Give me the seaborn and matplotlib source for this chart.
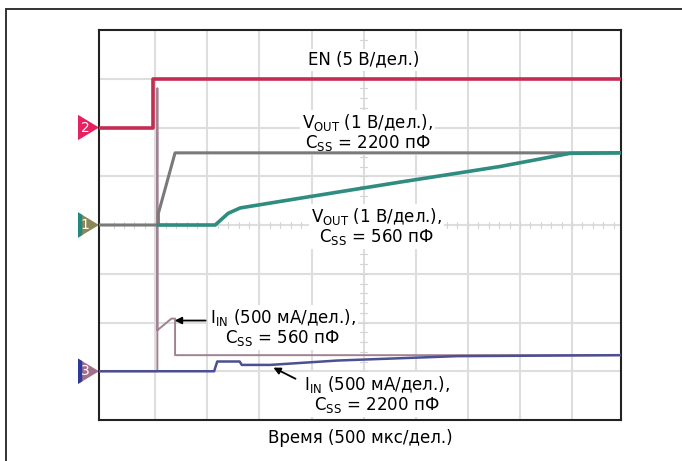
import numpy as np
import pandas as pd
import matplotlib
matplotlib.use('Agg')
import matplotlib.pyplot as plt
import matplotlib.transforms as mtrans
from matplotlib.patches import Polygon, Rectangle
import seaborn as sns

#traces, x in divisions (500 us/div), y in divisions
en_t=[-0.1,0.96,0.96,9.95]
en_v=[6.0,6.0,7.0,7.0]

vout2200_t=[-0.1,1.06,1.06,1.38,9.95]
vout2200_v=[4.0,4.0,4.24,5.48,5.48]

vout560_t=[1.06,2.15,2.40,2.63,3.78,5.70,7.62,8.96,9.95]
vout560_v=[4.0,4.0,4.24,4.35,4.55,4.88,5.20,5.47,5.48]

iin560_t=[-0.1,1.04,1.04,1.04,1.31,1.38,1.38,9.95]
iin560_v=[1.0,1.0,6.8,1.84,2.08,2.08,1.33,1.33]

iin2200_t=[-0.1,2.13,2.19,2.62,2.66,3.20,4.50,6.80,9.95]
iin2200_v=[1.0,1.0,1.2,1.2,1.13,1.13,1.22,1.31,1.33]

#channel markers: level and label
ch_levels=[6.0,4.0,1.0]
ch_labels=['2','1','3']
ch_colors=['#e8205f','#8b8758','#a0708a']
ch_stripes=[None,'#1f8a80','#2b3a9c']

sns.set_style('white')
plt.rcParams['font.family']=['Liberation Sans Narrow','DejaVu Sans']
plt.rcParams['text.color']='black'

fig=plt.figure(figsize=(6.82,4.61),dpi=100)
ax=fig.add_axes([99/682,41/461,522/682,390/461])

ax.set_xlim(-0.08,9.94)
ax.set_ylim(0,8)

#grid
for gx in range(1,10):
    ax.axvline(gx,color='#dedede',lw=1.5,zorder=0)
for gy in range(1,8):
    ax.axhline(gy,color='#dedede',lw=1.5,zorder=0)
#small ticks on the centre lines
for tx in np.arange(0.2,10,0.2):
    ax.plot([tx,tx],[3.93,4.07],color='#d4d4d4',lw=0.8,zorder=0)
for ty in np.arange(0.2,8,0.2):
    ax.plot([4.93,5.07],[ty,ty],color='#d4d4d4',lw=0.8,zorder=0)

def trace(t,v,color,lw):
    df=pd.DataFrame({'t':t,'v':v})
    sns.lineplot(data=df,x='t',y='v',ax=ax,color=color,lw=lw,
                 sort=False,estimator=None,zorder=3)

trace(iin560_t,iin560_v,'#a08290',1.4)
trace(iin2200_t,iin2200_v,'#4c4f92',1.8)
trace(vout2200_t,vout2200_v,'#7a7a7a',2.2)
trace(vout560_t,vout560_v,'#2f8c80',2.6)
trace(en_t,en_v,'#c42d52',2.6)

ax.set_xlabel('')
ax.set_ylabel('')
ax.set_xticks([])
ax.set_yticks([])
for s in ax.spines.values():
    s.set_visible(True)
    s.set_color('#222222')
    s.set_linewidth(1.5)

#channel markers left of the screen
blend=mtrans.blended_transform_factory(ax.transAxes,ax.transData)
w=0.0402
h=0.26
for lvl,lab,c,st in zip(ch_levels,ch_labels,ch_colors,ch_stripes):
    ax.add_patch(Polygon([(-w,lvl-h),(-w,lvl+h),(0,lvl)],closed=True,
                         fc=c,ec='none',transform=blend,clip_on=False))
    if st is not None:
        f=0.2
        ax.add_patch(Polygon([(-w,lvl-h),(-w,lvl+h),(-w*(1-f),lvl+h*(1-f)),
                              (-w*(1-f),lvl-h*(1-f))],closed=True,
                             fc=st,ec='none',transform=blend,clip_on=False))
    ax.text(-0.027,lvl,lab,transform=blend,color='white',fontsize=10,
            ha='center',va='center')

box=dict(fc='white',ec='none',pad=1.5)
ax.text(5.01,7.39,'EN (5 В/дел.)',ha='center',va='center',fontsize=12,
        bbox=box,zorder=2)
ax.text(5.07,5.90,'V$_\\mathregular{OUT}$ (1 В/дел.),\nC$_\\mathregular{SS}$ = 2200 пФ',
        ha='center',va='center',fontsize=12,bbox=box,zorder=2,linespacing=1.0)
ax.text(5.24,3.96,'V$_\\mathregular{OUT}$ (1 В/дел.),\nC$_\\mathregular{SS}$ = 560 пФ',
        ha='center',va='center',fontsize=12,bbox=box,zorder=2,linespacing=1.0)
ax.text(3.45,1.90,'I$_\\mathregular{IN}$ (500 мА/дел.),\nC$_\\mathregular{SS}$ = 560 пФ',
        ha='center',va='center',fontsize=12,bbox=box,zorder=2,linespacing=1.0)
ax.text(5.26,0.53,'I$_\\mathregular{IN}$ (500 мА/дел.),\nC$_\\mathregular{SS}$ = 2200 пФ',
        ha='center',va='center',fontsize=12,bbox=box,zorder=2,linespacing=1.0)

arrow=dict(arrowstyle='-|>',color='black',lw=1.3,mutation_scale=10)
ax.annotate('',xy=(1.32,2.04),xytext=(2.02,2.04),arrowprops=arrow,zorder=6)
ax.annotate('',xy=(3.22,1.10),xytext=(3.74,0.82),arrowprops=arrow,zorder=6)

fig.text(0.528,1-438/461,'Время (500 мкс/дел.)',ha='center',va='center',
         fontsize=12)

#outer frame, cut off on the right and bottom
fig.add_artist(Rectangle((6/682,-0.05),1.05,1.05-9/461,transform=fig.transFigure,
                         fill=False,ec='#333333',lw=1.4))

fig.savefig('out.png',dpi=100)
